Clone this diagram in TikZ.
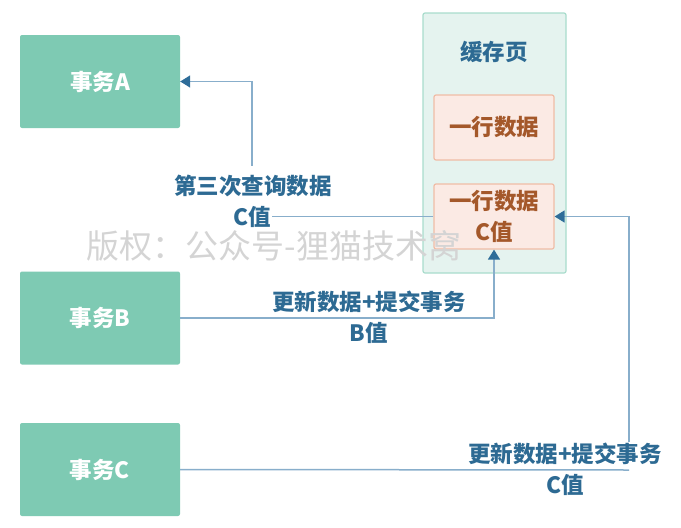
\documentclass[tikz,border=0pt]{standalone}
\usepackage{fontspec}
\setmainfont{Noto Sans CJK SC}
\usetikzlibrary{arrows.meta}
\definecolor{txbox}{RGB}{126,202,179}
\definecolor{pagefill}{RGB}{229,243,239}
\definecolor{pageline}{RGB}{169,220,204}
\definecolor{rowfill}{RGB}{251,234,228}
\definecolor{rowline}{RGB}{240,188,166}
\definecolor{rowtext}{RGB}{164,88,42}
\definecolor{labtext}{RGB}{45,106,147}
\definecolor{conline}{RGB}{136,174,203}
\definecolor{tipcol}{RGB}{46,109,153}
\definecolor{wmark}{RGB}{212,212,212}
\tikzset{
  txn/.style={fill=txbox, draw=none, rounded corners=2pt, minimum width=160pt, minimum height=93pt,
    text=white, font=\bfseries\fontsize{22.5}{31}\selectfont, inner sep=0pt},
  pagebox/.style={fill=pagefill, draw=pageline, line width=1.2pt, rounded corners=2pt,
    minimum width=143pt, minimum height=260pt, inner sep=0pt},
  rowbox/.style={fill=rowfill, draw=rowline, line width=1.2pt, rounded corners=2pt,
    minimum width=120pt, minimum height=65pt, inner sep=0pt, align=center,
    text=rowtext, font=\bfseries\fontsize{22.5}{31}\selectfont},
  lab/.style={align=center, text=labtext, font=\bfseries\fontsize{22.5}{31}\selectfont, inner sep=1pt},
  conn/.style={draw=conline, line width=1.5pt},
  arr/.style={conn, -{Triangle[length=10pt,width=12pt,color=tipcol]}},
}
\begin{document}
\begin{tikzpicture}[x=1pt,y=-1pt]
\useasboundingbox (0,0) rectangle (681,528);
% transaction boxes
\node[txn] (A) at (100,81.5) {事务A};
\node[txn] (B) at (100,318) {事务B};
\node[txn] (C) at (100,469.5) {事务C};
% cache page
\node[pagebox] (page) at (494.5,143) {};
\node[lab] (pagelab) at (494,52) {缓存页};
\node[rowbox] (row1) at (494,127.5) {一行数据};
\node[rowbox] (row2) at (494,216.5) {一行数据\\C值};
% connector to A
\coordinate (ca) at (252,216.5);
\draw[arr] (row2.west) -- (ca) |- (A.east);
\node[lab, fill=white, inner ysep=9pt] (la) at (253,186) {第三次查询数据};
\node[lab, fill=white] (lac) at (252,217) {C值};
% connector from B
\coordinate (cb) at (494,318);
\draw[arr] (B.east) -- (cb) -- (row2.south);
\node[lab] (lb) at (369,317.5) {更新数据+提交事务\\B值};
% connector from C
\coordinate (cc) at (629,470);
\draw[arr] (cc) |- (row2.east);
\node[lab, fill=white] (lc) at (565,469.5) {更新数据+提交事务\\C值};
\draw[conn] (C.east) -- (cc);
% watermark
\node[text=wmark, font=\fontsize{33}{33}\selectfont, inner sep=0pt] (wm) at (274,246) {版权：公众号-狸猫技术窝};
\end{tikzpicture}
\end{document}
